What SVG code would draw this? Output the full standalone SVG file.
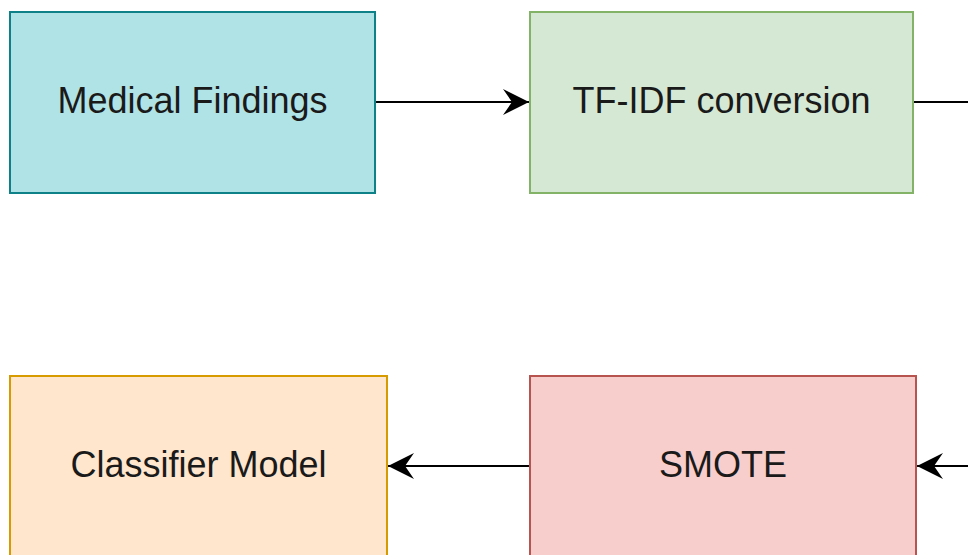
<svg xmlns="http://www.w3.org/2000/svg" width="968" height="555" viewBox="0 0 968 555">
  <style>
    .box { stroke-width: 2; }
    .lbl { font-family: "Liberation Sans", Arial, sans-serif; font-size: 36px; fill: #1a1a1a; text-anchor: middle; }
    .edge { fill: none; stroke: #000; stroke-width: 2; }
  </style>
  <defs>
    <marker id="arrow" markerUnits="userSpaceOnUse" viewBox="-27 -14 28 28" refX="0" refY="0" markerWidth="28" markerHeight="28" orient="auto">
      <path d="M0,0 L-26,-13 L-17,0 L-26,13 Z" fill="#000"/>
    </marker>
  </defs>
  <rect width="968" height="555" fill="#fff"/>
  <g id="connectors">
    <path class="edge" d="M376,102 L529,102" marker-end="url(#arrow)"/>
    <path class="edge" d="M914,102 L968,102"/>
    <path class="edge" d="M529,466 L388,466" marker-end="url(#arrow)"/>
    <path class="edge" d="M968,466 L917,466" marker-end="url(#arrow)"/>
  </g>
  <g id="medical-findings">
    <rect class="box" x="10" y="12" width="365" height="181" fill="#b0e3e6" stroke="#0e8088"/>
    <text class="lbl" x="192.5" y="113">Medical Findings</text>
  </g>
  <g id="tfidf">
    <rect class="box" x="530" y="12" width="383" height="181" fill="#d5e8d4" stroke="#82b366"/>
    <text class="lbl" x="721.5" y="113">TF-IDF conversion</text>
  </g>
  <g id="classifier">
    <rect class="box" x="10" y="376" width="377" height="181" fill="#ffe6cc" stroke="#d79b00"/>
    <text class="lbl" x="198.5" y="477">Classifier Model</text>
  </g>
  <g id="smote">
    <rect class="box" x="530" y="376" width="386" height="181" fill="#f8cecc" stroke="#b85450"/>
    <text class="lbl" x="723" y="477">SMOTE</text>
  </g>
</svg>
